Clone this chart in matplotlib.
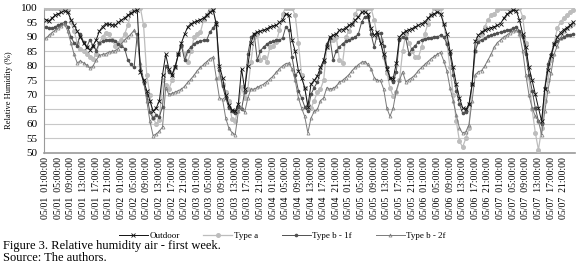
import matplotlib
matplotlib.use("Agg")
import matplotlib.pyplot as plt
import numpy as np

plt.rcParams['font.family'] = ['Liberation Serif', 'DejaVu Serif']

# hourly readings, 05/01 01:00 -> 05/08 00:00 (one row per day)
outdoor = [
    96, 95.5, 96.5, 97.5, 98, 98.5, 99, 98.5, 96, 94, 92, 90, 88, 86.5, 85.5, 87, 89, 92, 93.5, 94.5, 94.3, 94.2, 94, 95,
    95.8, 96.5, 97.5, 98.2, 98.8, 99.2, 78, 75, 71.5, 68, 64.5, 65.5, 68, 77, 84, 79, 77, 79.5, 84, 88, 91, 93.5, 94.6, 95,
    95.5, 96, 96.5, 97.5, 98.5, 99.3, 94.6, 80, 76, 70, 66.6, 64.8, 64.3, 67, 79, 72, 80, 88, 91, 91.7, 92, 92.3, 92.8, 93.5,
    93.8, 94, 95, 95.8, 98, 97.5, 89, 85, 78.4, 76, 72.5, 66, 73.7, 75, 76.5, 79.5, 82, 86.5, 90, 90.6, 91, 92.3, 92.5, 93.2,
    94, 94.6, 95.8, 97, 98.5, 98.7, 98, 93, 90.5, 91.7, 88, 84, 79, 76, 75.5, 81, 90, 91.2, 92, 92.5, 92.9, 93.5, 94, 94.6,
    95.2, 96.4, 97.5, 98, 98.7, 98, 94.6, 91, 85.3, 79.5, 73.7, 69, 65.5, 65, 66.7, 73.7, 88.5, 90.6, 91.7, 92.3, 92.9, 93.2, 93.5, 94,
    94.6, 96.4, 97.8, 98.7, 99.3, 99, 95.8, 91, 86.5, 79.5, 75, 70.2, 65.5, 61, 72, 78.5, 83.5, 87.5, 90, 91.5, 92.5, 93.2, 94, 95,
]
type_a = [
    100, 100, 100, 100, 100, 100, 100, 100, 95, 92, 88, 86, 85, 84, 83, 82.5, 84, 88, 90, 91.5, 91, 89, 87, 88,
    89, 91, 94, 98.5, 100, 100, 100, 94, 77, 70, 62, 60, 61.5, 75, 73.5, 72, 75, 79.5, 84, 87, 84, 81.5, 85, 90,
    91, 91.7, 95.8, 97.5, 100, 100, 94, 76, 73.7, 71, 68, 61.6, 61, 66, 72.6, 69, 72, 81.5, 90, 91, 82, 83, 81.5, 86.5,
    87, 88.3, 92.3, 98, 100, 100, 100, 97.5, 88, 77, 72.5, 66.5, 65.5, 68, 71, 72, 75, 86.5, 89, 89, 90, 82, 81, 90,
    92, 94.6, 98, 100, 100, 100, 100, 100, 95.8, 90, 89, 83, 77.7, 72.5, 69.6, 71, 75, 85, 91, 88, 85.3, 83, 83, 86.5,
    91, 94.6, 97.5, 100, 100, 100, 94.6, 88, 79.5, 70, 61, 54, 52, 55, 58.5, 73.7, 85, 89, 91, 93.5, 95.8, 97.5, 98, 99.3,
    100, 100, 100, 100, 100, 100, 100, 97, 88, 76, 65, 57, 51, 58.5, 68, 75, 82, 88, 93, 95.2, 96.5, 97.5, 98.5, 99.3,
]
type_b_1f = [
    93.4, 93, 93, 93.5, 94, 94.6, 95, 93.5, 90, 88, 87, 91, 88.3, 86.5, 89, 87, 85.3, 88, 88.5, 88.8, 89, 89, 88.5, 87.5,
    87, 86, 82, 80.5, 79.5, 91, 78.5, 74, 70, 64, 62, 63, 62.5, 66, 80, 78, 77, 80, 84, 87, 82, 85.3, 86.5, 87.7,
    88.3, 88.5, 88.8, 89, 91.7, 93, 95, 78.5, 73, 69, 65.5, 64.3, 63.7, 66, 65, 71, 84, 90, 91, 82, 85.3, 86.5, 87.5, 88.3,
    88.5, 89, 89, 89.5, 93.5, 92.3, 83, 76.7, 71.5, 69, 66, 64.3, 70.2, 72.5, 74.4, 78, 81.5, 87.7, 89.5, 82, 85.3, 86.5, 87.7, 88.5,
    89, 89.5, 90, 91, 95, 97, 97, 91, 86.5, 91, 91.5, 87, 79.5, 76, 74.5, 78, 89, 90, 89.5, 84.2, 86, 87, 88.3, 89,
    89.3, 89.6, 89.8, 90, 90, 90.6, 90, 87.7, 84.2, 77, 71.5, 66.7, 63.7, 64, 66.7, 73.7, 85.3, 88.3, 89, 89.5, 90.3, 90.6, 91, 91.3,
    91.7, 92, 92.3, 92.5, 93, 93.5, 92, 90, 84.2, 77, 71.5, 65.5, 61, 60, 72.5, 80.8, 84.2, 87.7, 88.5, 89.5, 90, 90.6, 90.8, 91,
]
type_b_2f = [
    89.5, 90.5, 91.5, 92.3, 93, 93.8, 94.4, 92, 88, 84, 81, 81.8, 81, 80.3, 79.2, 80, 82, 83.6, 84, 84.2, 84.8, 85, 85.3, 86,
    87.6, 89, 90, 91, 92.3, 90, 81, 75, 68, 61, 56, 56.5, 57.5, 59, 72.5, 70.2, 70.5, 71, 71.5, 72, 73, 74.4, 75.5, 76.8,
    78.4, 79.5, 80.5, 81.5, 82.5, 83, 76, 69, 68.5, 62, 58.5, 57, 56.3, 64.3, 65.5, 64, 69, 72, 72, 72.6, 73.2, 73.7, 74.6, 75.5,
    76.5, 77.8, 79, 80, 80.8, 81, 79, 75, 69, 65.5, 62.6, 57, 62, 64.3, 65, 68, 69, 72.5, 72, 72.3, 73, 74.4, 75, 76,
    77, 78.4, 79.5, 80.4, 81.3, 81.5, 80.5, 79, 76, 75, 75, 72, 65.5, 62.6, 65.5, 71.5, 75, 78, 74.5, 75.3, 76, 77, 78.4, 79.5,
    80.5, 81.5, 82.5, 83.3, 84, 84.7, 81.8, 78.4, 72.5, 68, 63, 58.5, 56.8, 57.3, 59.7, 68, 77, 78, 78.4, 80, 82, 84, 86.5, 88,
    89, 90, 90.6, 91.5, 92, 92.3, 91, 85.3, 77, 70, 65.5, 62.7, 61, 56.3, 64.3, 71.5, 77.7, 84.2, 87, 89.5, 92, 93, 93.8, 94.6,
]

days = ['05/01', '05/02', '05/03', '05/04', '05/05', '05/06', '05/07']
hours = ['01:00:00', '05:00:00', '09:00:00', '13:00:00', '17:00:00', '21:00:00']
tick_labels = [d + '  ' + h for d in days for h in hours]

x = np.arange(len(outdoor))

fig = plt.figure(figsize=(5.8, 2.65), dpi=100)
ax = fig.add_axes([0.076, 0.423, 0.915, 0.547])

ax.plot(x, outdoor, color='#111111', lw=0.7, marker='x', ms=2.2, mew=0.6, label='Outdoor', zorder=5)
ax.plot(x, type_a, color='#bdbdbd', lw=0.9, marker='o', ms=2.6, label='Type a', zorder=3)
ax.plot(x, type_b_1f, color='#505050', lw=0.7, marker='o', ms=1.6, label='Type b - 1f', zorder=4)
ax.plot(x, type_b_2f, color='#7a7a7a', lw=0.7, marker='^', ms=2.2, mfc='none', mew=0.5, label='Type b - 2f', zorder=4)

ax.set_xlim(-0.5, len(outdoor) - 0.5)
ax.set_ylim(50, 100)
ax.set_yticks(np.arange(50, 101, 5))
ax.set_xticks(x[::4])
ax.set_xticklabels(tick_labels, rotation=90, fontsize=7)
ax.tick_params(axis='y', labelsize=8, length=0, pad=5)
ax.tick_params(axis='x', length=0, pad=3)
ax.set_ylabel('Relative Humidity (%)', fontsize=6)
ax.yaxis.set_label_coords(-0.058, 0.43)

ax.grid(axis='y', color='#c8c8c8', lw=0.8)
ax.set_axisbelow(True)
for s in ['top', 'right']:
    ax.spines[s].set_visible(False)
ax.spines['left'].set_color('#9a9a9a')
ax.spines['bottom'].set_color('#9a9a9a')
ax.spines['bottom'].set_linewidth(1.2)

fig.legend(loc='center', bbox_to_anchor=(0.487, 0.11), ncol=4, frameon=False,
           fontsize=6.5, handlelength=3.2, columnspacing=2.6, handletextpad=0.2)

fig.text(0.005, 0.072, 'Figure 3. Relative humidity air - first week.', fontsize=9, va='center')
fig.text(0.005, 0.028, 'Source: The authors.', fontsize=9, va='center')

fig.savefig('out.png', dpi=100)
